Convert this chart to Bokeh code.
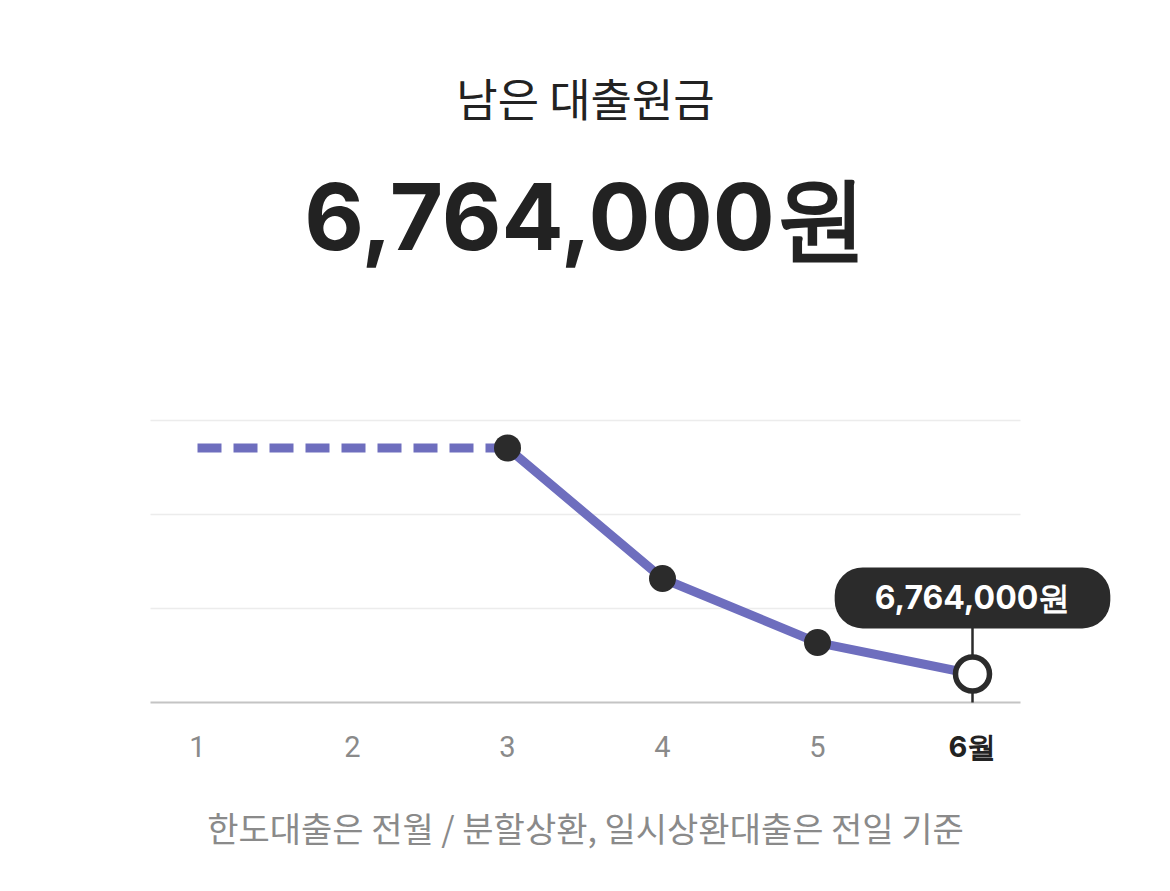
from bokeh.plotting import figure
from bokeh.models import Range1d, Label
from bokeh.embed import file_html
from bokeh.resources import INLINE

# ---- data ----
months = [1, 2, 3, 4, 5, 6]
balance = [9650000, 9650000, 9650000, 7983000, 7165000, 6764000]
month_labels = ["1", "2", "3", "4", "5", "6월"]
title_text = "남은 대출원금"
headline = "6,764,000원"
footnote = "한도대출은 전월 / 분할상환, 일시상환대출은 전일 기준"
y_start, y_end, y_step = 6_400_000, 10_000_000, 1_200_000

# ---- layout (pixels) ----
W, H = 1170, 891
CHART_L, CHART_R = 150, 1020          # horizontal extent of grid lines
CHART_TOP, CHART_BOTTOM = 420, 702    # top grid line / baseline
FIRST_X, LAST_X = 197, 972            # pixel centre of first / last month
PURPLE = "#6e6ebe"
DARK = "#2b2b2b"
GRAY = "#8a8a8a"

ux = (LAST_X - FIRST_X) / (months[-1] - months[0])      # px per month
uy = (CHART_BOTTOM - CHART_TOP) / (y_end - y_start)      # px per won
x0 = months[0] - FIRST_X / ux
x1 = months[-1] + (W - LAST_X) / ux
y0 = y_start - (H - CHART_BOTTOM) / uy
y1 = y_start + CHART_BOTTOM / uy


def X(px):
    return x0 + px / ux


def Y(py):
    return y1 - py / uy


p = figure(width=W, height=H, output_backend="svg", toolbar_location=None,
           x_range=Range1d(x0, x1), y_range=Range1d(y0, y1),
           x_axis_location=None, y_axis_location=None,
           min_border=0, outline_line_color=None,
           background_fill_color="white", border_fill_color="white")
p.xgrid.visible = False
p.ygrid.visible = False

# horizontal grid lines and baseline
n_steps = int(round((y_end - y_start) / y_step))
grid_vals = [y_start + k * y_step for k in range(1, n_steps + 1)]
p.segment(x0=[X(CHART_L)] * len(grid_vals), y0=grid_vals,
          x1=[X(CHART_R)] * len(grid_vals), y1=grid_vals,
          line_color="#ececec", line_width=1.3)
p.segment(x0=[X(CHART_L)], y0=[y_start], x1=[X(CHART_R)], y1=[y_start],
          line_color="#c4c4c4", line_width=2)

# dashed part and solid part of the balance line
p.line(months[:3], balance[:3], line_color=PURPLE, line_width=9, line_dash="24 12")
p.line(months[2:], balance[2:], line_color=PURPLE, line_width=9, line_join="round")

# vertical pointer from baseline to tooltip
p.segment(x0=[months[-1]], y0=[y_start], x1=[months[-1]],
          y1=[balance[-1] + 46 / uy], line_color=DARK, line_width=2.5)

p.scatter(months[2:5], balance[2:5], size=27, fill_color=DARK, line_color=None)
p.scatter([months[-1]], [balance[-1]], size=34, fill_color="white",
          line_color=DARK, line_width=5.5)

# month tick labels
p.text(x=months[:-1], y=[y_start] * (len(months) - 1), text=month_labels[:-1],
       y_offset=44, text_align="center", text_baseline="middle",
       text_color=GRAY, text_font={"value": "Roboto"}, text_font_size="29px",
       text_font_style="normal")
p.text(x=[months[-1]], y=[y_start], text=[month_labels[-1]],
       y_offset=44, text_align="center", text_baseline="middle",
       text_color="#222222", text_font={"value": "Inter"}, text_font_size="29px",
       text_font_style="bold")

# tooltip
p.add_layout(Label(x=months[-1], y=balance[-1], y_offset=76, text=headline,
                   text_align="center", text_baseline="middle",
                   text_color="white", text_font="Inter", text_font_style="bold",
                   text_font_size="32px", background_fill_color=DARK,
                   border_radius=28, padding=(40, 40, 11, 11)))

xmid = X(W / 2)
p.add_layout(Label(x=xmid, y=Y(97), text=title_text,
                   text_align="center", text_baseline="middle",
                   text_color="#222222", text_font="Noto Sans CJK KR",
                   text_font_size="45px"))
p.add_layout(Label(x=xmid, y=Y(216), text=headline,
                   text_align="center", text_baseline="middle",
                   text_color="#222222", text_font="Inter", text_font_style="bold",
                   text_font_size="92px"))
p.add_layout(Label(x=xmid, y=Y(827), text=footnote,
                   text_align="center", text_baseline="middle",
                   text_color=GRAY, text_font="Noto Sans CJK KR",
                   text_font_size="34px"))

open("out.html", "w").write(file_html(p, INLINE))
